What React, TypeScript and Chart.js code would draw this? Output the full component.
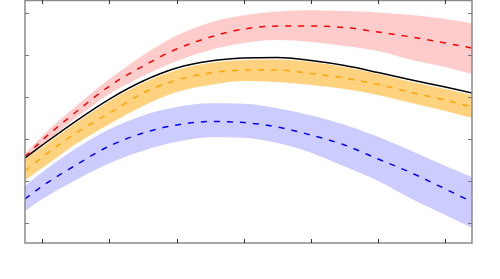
import React, { useEffect, useRef } from "react";
import { Chart, registerables } from "chart.js";

Chart.register(...registerables);

const xs = [-0.26, 0, 0.5, 1, 1.5, 2, 2.5, 3, 3.5, 4, 4.5, 5, 5.5, 6, 6.4];

const blackLine = [1.544, 1.854, 2.427, 2.952, 3.382, 3.692, 3.859, 3.931, 3.943, 3.871, 3.752, 3.585, 3.406, 3.239, 3.095];

const redMid = [1.568, 1.974, 2.642, 3.263, 3.74, 4.146, 4.432, 4.623, 4.695, 4.695, 4.659, 4.551, 4.432, 4.289, 4.169];
const redUpper = [1.64, 2.069, 2.785, 3.43, 4.0, 4.47, 4.78, 4.95, 5.04, 5.07, 5.055, 5.02, 4.957, 4.862, 4.766];
const redLower = [1.496, 1.854, 2.499, 3.072, 3.501, 3.859, 4.122, 4.289, 4.36, 4.313, 4.217, 4.098, 3.883, 3.716, 3.549];

const orangeMid = [1.234, 1.568, 2.141, 2.618, 3.095, 3.406, 3.573, 3.644, 3.644, 3.561, 3.453, 3.298, 3.107, 2.928, 2.761];
const orangeUpper = [1.52, 1.807, 2.379, 2.905, 3.334, 3.644, 3.811, 3.883, 3.895, 3.835, 3.716, 3.549, 3.358, 3.191, 3.048];
const orangeLower = [1.019, 1.305, 1.878, 2.356, 2.785, 3.119, 3.286, 3.382, 3.358, 3.286, 3.191, 3.048, 2.857, 2.666, 2.499];

const blueMid = [0.566, 0.876, 1.377, 1.831, 2.141, 2.332, 2.415, 2.391, 2.284, 2.093, 1.854, 1.52, 1.186, 0.804, 0.494];
const blueUpper = [0.876, 1.21, 1.77, 2.23, 2.56, 2.76, 2.85, 2.84, 2.73, 2.56, 2.34, 2.05, 1.71, 1.353, 1.091];
const blueLower = [0.279, 0.566, 1.019, 1.42, 1.72, 1.93, 2.04, 2.03, 1.9, 1.67, 1.34, 0.995, 0.566, 0.184, -0.126];

const xTicks = [0, 1, 2, 3, 4, 5, 6];
const yTicks = [0, 1, 2, 3, 4, 5];

const pts = (ys: number[]) => xs.map((x, i) => ({ x, y: ys[i] }));

const axesPlugin = {
  id: "boxAxes",
  afterDraw(chart: any) {
    const { ctx, chartArea: a, scales } = chart;
    const xs_ = scales.x;
    const ys_ = scales.y;
    ctx.save();
    ctx.lineWidth = 1.5;
    ctx.strokeStyle = "#8a8a8a";
    ctx.beginPath();
    ctx.moveTo(a.left, a.top + 0.5);
    ctx.lineTo(a.right, a.top + 0.5);
    ctx.lineTo(a.right, a.bottom);
    ctx.lineTo(a.left, a.bottom);
    ctx.closePath();
    ctx.stroke();
    ctx.lineWidth = 1;
    ctx.strokeStyle = "#333";
    for (const t of xTicks) {
      const px = Math.round(xs_.getPixelForValue(t)) + 0.5;
      ctx.beginPath();
      ctx.moveTo(px, a.bottom);
      ctx.lineTo(px, a.bottom - 4);
      ctx.moveTo(px, a.top);
      ctx.lineTo(px, a.top + 4);
      ctx.stroke();
    }
    ctx.strokeStyle = "#777";
    for (const t of yTicks) {
      const py = Math.round(ys_.getPixelForValue(t)) + 0.5;
      ctx.beginPath();
      ctx.moveTo(a.left, py);
      ctx.lineTo(a.left + 4, py);
      ctx.moveTo(a.right, py);
      ctx.lineTo(a.right - 4, py);
      ctx.stroke();
    }
    ctx.restore();
  },
};

export default function App() {
  const ref = useRef<HTMLCanvasElement | null>(null);
  useEffect(() => {
    document.body.style.margin = "0";
    const common = { pointRadius: 0, cubicInterpolationMode: "monotone", borderWidth: 1.5 };
    const band = (ys: number[]) => ({ ...common, data: pts(ys), borderWidth: 0, borderColor: "transparent" });
    const chart = new Chart(ref.current as HTMLCanvasElement, {
      type: "line",
      data: {
        datasets: [
          { ...common, data: pts(blackLine), borderColor: "#000000", fill: false },
          { ...common, data: pts(redMid), borderColor: "#ff0000", borderDash: [6, 7], fill: false },
          { ...common, data: pts(orangeMid), borderColor: "#ffa500", borderDash: [6, 7], fill: false },
          { ...common, data: pts(blueMid), borderColor: "#0000ff", borderDash: [6, 7], fill: false },
          { ...band(redLower), fill: false },
          { ...band(redUpper), fill: 4, backgroundColor: "rgba(255,0,0,0.2)" },
          { ...band(orangeLower), fill: false },
          { ...band(orangeUpper), fill: 6, backgroundColor: "rgba(255,165,0,0.5)" },
          { ...band(blueLower), fill: false },
          { ...band(blueUpper), fill: 8, backgroundColor: "rgba(0,0,255,0.2)" },
        ] as any,
      },
      options: {
        responsive: false,
        animation: false,
        layout: { padding: { left: 25, right: 28, top: 0, bottom: 36 } },
        plugins: { legend: { display: false }, tooltip: { enabled: false } },
        scales: {
          x: { type: "linear", display: false, min: -0.258, max: 6.397 },
          y: { type: "linear", display: false, min: -0.485, max: 5.317 },
        },
      },
      plugins: [axesPlugin],
    });
    return () => chart.destroy();
  }, []);
  return (
    <div style={{ position: "absolute", left: 0, top: 0, width: 500, height: 279 }}>
      <canvas ref={ref} width={500} height={279} />
    </div>
  );
}
